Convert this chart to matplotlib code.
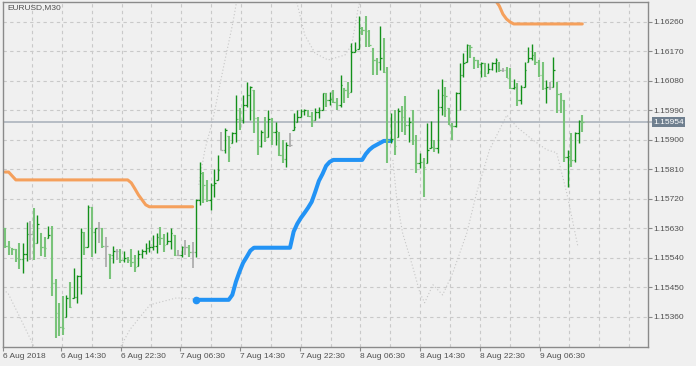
import numpy as np
import matplotlib
matplotlib.use("Agg")
import matplotlib.pyplot as plt
from matplotlib.collections import LineCollection
import matplotlib.transforms as mtransforms

plt.rcParams['font.family'] = ['Liberation Sans', 'DejaVu Sans']

# ─── Data: EURUSD M30 bars ───────────────────────────────────────────────────
highs = [1.15632, 1.15592, 1.15571, 1.15568, 1.15586, 1.15586, 1.15650, 1.15653, 1.15693, 1.15671,
         1.15617, 1.15604, 1.15638, 1.15638, 1.15476, 1.15403, 1.15423, 1.15427, 1.15467, 1.15510,
         1.15488, 1.15632, 1.15620, 1.15702, 1.15696, 1.15632, 1.15650, 1.15632, 1.15604, 1.15552,
         1.15577, 1.15568, 1.15568, 1.15562, 1.15543, 1.15568, 1.15549, 1.15565, 1.15568, 1.15586,
         1.15595, 1.15610, 1.15617, 1.15635, 1.15614, 1.15620, 1.15632, 1.15610, 1.15565, 1.15577,
         1.15595, 1.15580, 1.15589, 1.15720, 1.15833, 1.15802, 1.15778, 1.15769, 1.15812, 1.15854,
         1.15925, 1.15937, 1.15912, 1.15925, 1.16037, 1.15998, 1.16037, 1.16077, 1.16065, 1.16053,
         1.15970, 1.15931, 1.15970, 1.15992, 1.15967, 1.15955, 1.15925, 1.15900, 1.15894, 1.15922,
         1.15983, 1.15992, 1.15995, 1.15995, 1.15992, 1.15986, 1.15998, 1.16001, 1.16044, 1.16044,
         1.16047, 1.16053, 1.16028, 1.16098, 1.16059, 1.16077, 1.16196, 1.16199, 1.16278, 1.16245,
         1.16278, 1.16236, 1.16181, 1.16150, 1.16248, 1.16211, 1.16123, 1.15983, 1.15992, 1.15998,
         1.16004, 1.16034, 1.15970, 1.15992, 1.15916, 1.15861, 1.15845, 1.15952, 1.15958, 1.15900,
         1.16056, 1.16086, 1.16062, 1.15998, 1.15952, 1.16047, 1.16135, 1.16165, 1.16193, 1.16190,
         1.16153, 1.16144, 1.16138, 1.16135, 1.16135, 1.16138, 1.16150, 1.16138, 1.16120, 1.16123,
         1.16120, 1.16086, 1.16074, 1.16068, 1.16138, 1.16184, 1.16193, 1.16168, 1.16144, 1.16138,
         1.16083, 1.16077, 1.16153, 1.16077, 1.16044, 1.16022, 1.15870, 1.15922, 1.15925, 1.15961,
         1.15977]
lows = [1.15571, 1.15549, 1.15549, 1.15528, 1.15507, 1.15495, 1.15531, 1.15534, 1.15534, 1.15586,
        1.15546, 1.15543, 1.15601, 1.15423, 1.15296, 1.15302, 1.15305, 1.15360, 1.15388, 1.15418,
        1.15403, 1.15430, 1.15549, 1.15574, 1.15543, 1.15556, 1.15586, 1.15571, 1.15513, 1.15476,
        1.15525, 1.15534, 1.15525, 1.15528, 1.15525, 1.15513, 1.15498, 1.15516, 1.15540, 1.15552,
        1.15559, 1.15565, 1.15556, 1.15580, 1.15559, 1.15583, 1.15568, 1.15546, 1.15546, 1.15543,
        1.15549, 1.15543, 1.15510, 1.15543, 1.15702, 1.15708, 1.15711, 1.15687, 1.15726, 1.15778,
        1.15870, 1.15861, 1.15833, 1.15891, 1.15894, 1.15931, 1.15952, 1.16001, 1.15961, 1.15922,
        1.15854, 1.15879, 1.15894, 1.15909, 1.15885, 1.15885, 1.15851, 1.15830, 1.15818, 1.15879,
        1.15931, 1.15955, 1.15970, 1.15977, 1.15970, 1.15940, 1.15961, 1.15967, 1.15992, 1.16001,
        1.16007, 1.16013, 1.15992, 1.16001, 1.16013, 1.16028, 1.16047, 1.16168, 1.16178, 1.16220,
        1.16184, 1.16184, 1.16098, 1.16098, 1.16114, 1.16105, 1.15830, 1.15891, 1.15854, 1.15909,
        1.15925, 1.15916, 1.15894, 1.15885, 1.15799, 1.15815, 1.15726, 1.15830, 1.15876, 1.15864,
        1.15861, 1.15977, 1.15970, 1.15946, 1.15900, 1.15940, 1.15992, 1.16092, 1.16138, 1.16150,
        1.16117, 1.16120, 1.16092, 1.16092, 1.16105, 1.16114, 1.16108, 1.16108, 1.16108, 1.16089,
        1.16056, 1.16056, 1.16004, 1.16010, 1.16062, 1.16138, 1.16144, 1.16129, 1.16092, 1.16053,
        1.16013, 1.16053, 1.16062, 1.15983, 1.15983, 1.15833, 1.15757, 1.15818, 1.15833, 1.15891,
        1.15925]
closes = [1.15577, 1.15574, 1.15568, 1.15540, 1.15537, 1.15552, 1.15614, 1.15614, 1.15586, 1.15644,
          1.15574, 1.15571, 1.15610, 1.15464, 1.15372, 1.15330, 1.15327, 1.15418, 1.15391, 1.15420,
          1.15485, 1.15620, 1.15574, 1.15696, 1.15620, 1.15632, 1.15632, 1.15577, 1.15577, 1.15549,
          1.15562, 1.15562, 1.15534, 1.15540, 1.15534, 1.15528, 1.15513, 1.15552, 1.15562, 1.15571,
          1.15574, 1.15577, 1.15604, 1.15601, 1.15580, 1.15592, 1.15617, 1.15549, 1.15549, 1.15574,
          1.15574, 1.15559, 1.15559, 1.15717, 1.15799, 1.15763, 1.15717, 1.15763, 1.15769, 1.15809,
          1.15870, 1.15931, 1.15879, 1.15922, 1.15964, 1.15961, 1.16007, 1.16037, 1.16062, 1.15967,
          1.15882, 1.15925, 1.15909, 1.15964, 1.15925, 1.15928, 1.15854, 1.15842, 1.15885, 1.15885,
          1.15940, 1.15970, 1.15989, 1.15992, 1.15974, 1.15961, 1.15986, 1.15992, 1.16044, 1.16022,
          1.16025, 1.16016, 1.16007, 1.16068, 1.16053, 1.16044, 1.16168, 1.16175, 1.16242, 1.16236,
          1.16233, 1.16190, 1.16144, 1.16138, 1.16150, 1.16108, 1.15900, 1.15903, 1.15882, 1.15989,
          1.15970, 1.15946, 1.15955, 1.15900, 1.15830, 1.15833, 1.15818, 1.15870, 1.15879, 1.15876,
          1.16001, 1.16037, 1.16034, 1.15946, 1.15943, 1.16044, 1.16098, 1.16135, 1.16190, 1.16184,
          1.16144, 1.16132, 1.16135, 1.16095, 1.16117, 1.16135, 1.16144, 1.16114, 1.16114, 1.16089,
          1.16059, 1.16062, 1.16022, 1.16062, 1.16114, 1.16150, 1.16159, 1.16138, 1.16098, 1.16059,
          1.16062, 1.16062, 1.16114, 1.16041, 1.16022, 1.15848, 1.15851, 1.15839, 1.15922, 1.15958,
          1.15954]
first_open = 1.15630
last_price = 1.15954

# Upper stop (orange), first segment from bar 0, second from bar 134
orange1_start = 0
orange1 = ([1.15802, 1.15802, 1.15790] + [1.15778] * 32 +
           [1.15769, 1.15751, 1.15732, 1.15717, 1.15702] + [1.15696] * 13)
orange2_start = 134
orange2 = [1.16360, 1.16342, 1.16325, 1.16309, 1.16284, 1.16269, 1.16260] + [1.16254] * 20

# Lower stop (blue), from bar 53
blue_start = 53
blue = ([1.15412] * 10 +
        [1.15427, 1.15467, 1.15498, 1.15525, 1.15543, 1.15562] +
        [1.15571] * 11 +
        [1.15620, 1.15644, 1.15662, 1.15677, 1.15693, 1.15711, 1.15742, 1.15775, 1.15796, 1.15821, 1.15833] +
        [1.15839] * 9 +
        [1.15857, 1.15870, 1.15879, 1.15885, 1.15891] +
        [1.15897] * 3)

# Faint dotted band lines (bar position, price)
bands = [
    ([-0.6, 0.8, 4.2, 7.8, 8.6], [1.15442, 1.15433, 1.15357, 1.15275, 1.15253]),
    ([31.3, 34.6, 40.2, 47.6, 52.1], [1.15253, 1.15321, 1.15397, 1.15418, 1.15415]),
    ([53.7, 55.4, 57.6, 60.1, 63.2, 64.5], [1.15763, 1.15870, 1.15961, 1.16098, 1.16260, 1.16342]),
    ([80.6, 83.1, 85.9, 89.5, 94.2, 96.1, 97.8, 98.6],
     [1.16333, 1.16220, 1.16165, 1.16144, 1.16159, 1.16190, 1.16297, 1.16333]),
    ([107.5, 108.6, 110.2, 113.0, 115.0, 116.3, 118.6, 121.3, 124.1, 128.0, 130.7, 134.3, 139.1,
      141.8, 146.3, 150.1, 152.9, 155.7, 158.8],
     [1.15839, 1.15717, 1.15616, 1.15513, 1.15433, 1.15403, 1.15458, 1.15427, 1.15494, 1.15616,
      1.15738, 1.15870, 1.15976, 1.15940, 1.15900, 1.15870, 1.15861, 1.15738, 1.15574]),
]

time_labels = ["6 Aug 2018", "6 Aug 14:30", "6 Aug 22:30", "7 Aug 06:30", "7 Aug 14:30",
               "7 Aug 22:30", "8 Aug 06:30", "8 Aug 14:30", "8 Aug 22:30", "9 Aug 06:30"]
price_ticks = [1.15360, 1.15450, 1.15540, 1.15630, 1.15720, 1.15810,
               1.15900, 1.15990, 1.16080, 1.16170, 1.16260]

# ─── Layout (pixel based, MT5 look) ──────────────────────────────────────────
W, H = 696, 366
PX_PER_BAR = 3.608
FIRST_BAR_PX = 5.0
AX_L, AX_R, AX_T, AX_B = 3, 648, 2, 347
BG = "#f0f0f0"
TXT = "#505050"
GRID = "#c9c9c9"
UP = "#13901a"
DOWN = "#79c37a"
DOJI = "#a8a8a8"


def px_to_bar(px):
    return (px - FIRST_BAR_PX) / PX_PER_BAR


fig = plt.figure(figsize=(W / 100, H / 100), dpi=100, facecolor=BG)
ax = fig.add_axes([AX_L / W, (H - AX_B) / H, (AX_R - AX_L) / W, (AX_B - AX_T) / H])
ax.set_facecolor(BG)
ax.set_xlim(px_to_bar(AX_L), px_to_bar(AX_R))
ax.set_ylim(1.15268, 1.16321)

# grid
for k in range(25):
    gx = 32 + 29.85 * k
    if gx >= AX_R:
        break
    ax.axvline(px_to_bar(gx), color=GRID, lw=0.8, ls=(0, (3, 3)), zorder=1)
for p in price_ticks:
    ax.axhline(p, color=GRID, lw=0.8, ls=(0, (3, 3)), zorder=1)

# dotted bands
for bx, by in bands:
    ax.plot(bx, by, color="#c6c6c6", lw=0.8, ls=(0, (1, 2)), zorder=1.5)

# current price line
ax.axhline(last_price, color="#a6aeb8", lw=1.1, zorder=1.6)

# stop lines
n = len(closes)
ax.plot(np.arange(orange1_start, orange1_start + len(orange1)), orange1,
        color="#f5a05c", lw=2.2, solid_capstyle="round", zorder=2)
ax.plot(np.arange(orange2_start, orange2_start + len(orange2)), orange2,
        color="#f5a05c", lw=2.2, solid_capstyle="round", zorder=2)
bx = np.arange(blue_start, blue_start + len(blue))
ax.plot(bx, blue, color="#2293f5", lw=2.9, solid_capstyle="round", zorder=2)
ax.plot(bx[0], blue[0], "o", color="#2293f5", ms=4.5, zorder=2)

# OHLC bars
highs_a = np.array(highs)
lows_a = np.array(lows)
closes_a = np.array(closes)
opens_a = np.clip(np.r_[first_open, closes_a[:-1]], lows_a, highs_a)
segs, cols, widths = [], [], []
tick = 0.42
for i in range(n):
    o, h, l, c = opens_a[i], highs_a[i], lows_a[i], closes_a[i]
    if c > o:
        col, lw = UP, 1.0
    elif c < o:
        col, lw = DOWN, 1.5
    else:
        col, lw = DOJI, 1.2
    segs += [[(i, l), (i, h)], [(i - tick, o), (i, o)], [(i, c), (i + tick, c)]]
    cols += [col] * 3
    widths += [lw, 0.9, 0.9]
ax.add_collection(LineCollection(segs, colors=cols, linewidths=widths, zorder=3))

# spines
for s in ax.spines.values():
    s.set_color("#8a8a8a")
    s.set_linewidth(1.0)

# y axis on the right
ax.yaxis.tick_right()
ax.set_yticks(price_ticks)
ax.set_yticklabels([f"{p:.5f}" for p in price_ticks])
ax.tick_params(axis="y", length=3, width=0.8, color="#8a8a8a", pad=1,
               labelsize=6, labelcolor=TXT)

# x axis time labels
tick_px = [AX_L, 61, 121, 180.5, 240, 300, 360, 420, 480, 540]
ax.set_xticks([px_to_bar(p) for p in tick_px])
ax.set_xticklabels(time_labels)
ax.tick_params(axis="x", length=3, width=0.8, color="#8a8a8a", pad=1.5,
               labelsize=6, labelcolor=TXT)
for lab in ax.get_xticklabels():
    lab.set_horizontalalignment("left")

# price label box
trans = mtransforms.blended_transform_factory(ax.transAxes, ax.transData)
ax.plot([1.0, 1.006], [last_price, last_price], color="#a6aeb8", lw=1.1,
        transform=trans, clip_on=False)
ax.text(1.0085, last_price, f"{last_price:.5f}", transform=trans, fontsize=6,
        color="white", va="center", ha="left",
        bbox=dict(boxstyle="square,pad=0.15", facecolor="#6f7f8f", edgecolor="none"))

# symbol title
ax.text(4 / (AX_R - AX_L), 1 - 6 / (AX_B - AX_T), "EURUSD,M30", transform=ax.transAxes,
        fontsize=6, color=TXT, va="center", ha="left")

fig.savefig("out.png", dpi=100, facecolor=BG)
